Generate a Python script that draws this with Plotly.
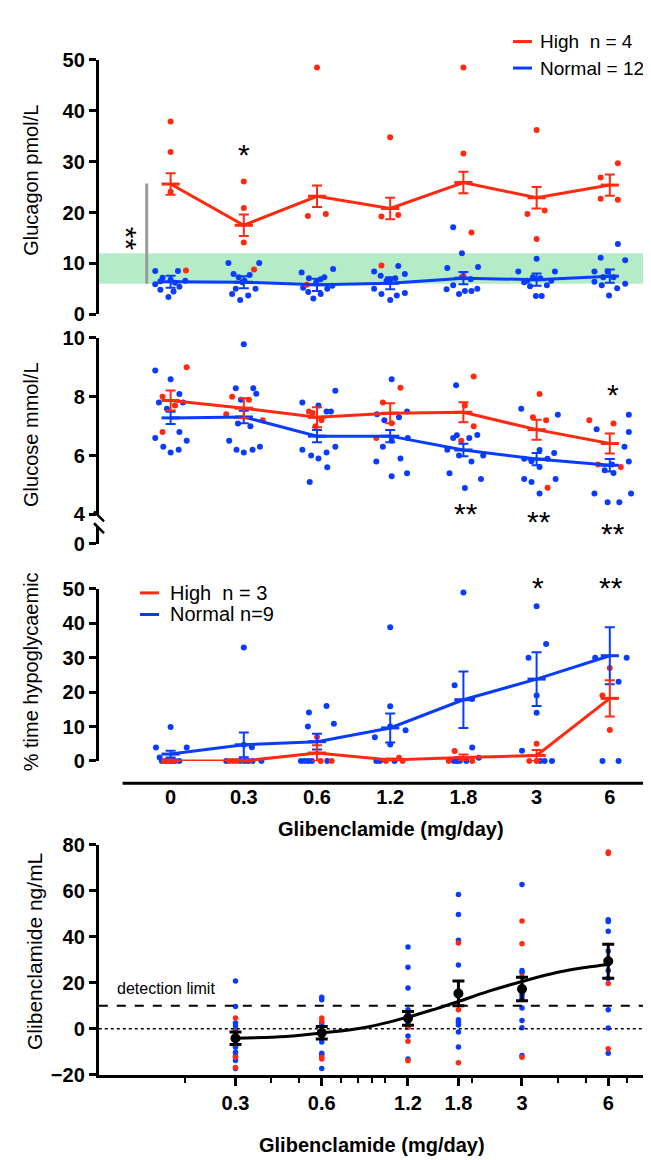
import plotly.graph_objects as go

W, H = 651, 1160
RED = "#ff2a10"
BLUE = "#0a3cff"
FONT = "Arial, 'Liberation Sans', sans-serif"

dose_labels = ["0", "0.3", "0.6", "1.2", "1.8", "3", "6"]

# --- panel 1: glucagon (pmol/L) ---
gcg_high_mean = [25.6, 17.5, 23.2, 20.8, 25.9, 22.9, 25.4]
gcg_high_sem = [2.1, 2.1, 2.1, 2.1, 2.1, 2.1, 2.1]
gcg_norm_mean = [6.4, 6.3, 5.8, 6.1, 7.1, 6.8, 7.5]
gcg_norm_sem = [1.2, 1.2, 1.2, 1.2, 1.2, 1.2, 1.3]
gcg_high_pts = [[37.9, 31.9, 24.1, 8.6], [26.1, 20.9, 14.1, 8.8], [48.5, 19.3, 19.7, 5.8],
                [34.8, 19.2, 19.5, 9.6], [48.5, 31.6, 16.1, 7.6], [36.2, 19.7, 20.4, 14.8],
                [29.7, 26.9, 22.7, 22.5]]
gcg_high_jit = [[0, 0, 0, 0.21], [0, 0, 0, 0.14], [0, -0.125, 0.12, -0.14],
                [0, -0.12, 0.11, -0.12], [0, 0, 0.11, 0], [0, -0.125, 0.11, 0],
                [0.11, -0.125, -0.125, 0.11]]
gcg_norm_pts = [[8.5, 7.2, 6.8, 8.5, 6.5, 6.6, 6.2, 4.8, 5.4, 3.4, 4.5, 5.9],
                [10.1, 10.1, 7.9, 7.3, 7.7, 6.6, 5.0, 5.0, 4.0, 3.7, 2.8, 6.3],
                [8.2, 7.1, 7.3, 8.9, 6.3, 4.4, 3.1, 4.0, 5.0, 5.6, 5.2, 6.9],
                [8.4, 9.5, 7.9, 7.6, 6.8, 7.1, 5.0, 4.0, 2.8, 3.7, 4.2, 6.6],
                [17.1, 12.0, 9.1, 9.3, 6.9, 4.9, 5.7, 4.0, 4.6, 4.6, 5.0, 7.3],
                [8.4, 10.9, 8.4, 6.6, 7.3, 7.1, 5.5, 5.7, 3.6, 3.6, 6.3, 6.6],
                [13.8, 11.1, 10.6, 8.4, 8.4, 6.4, 5.7, 6.0, 5.1, 3.7, 7.3, 7.3]]
gcg_norm_jit = [[-0.21, -0.11, 0.0, 0.10, -0.14, 0.20, 0.06, -0.14, 0.12, -0.03, 0.04, -0.21],
                [-0.21, 0.21, -0.14, -0.07, 0.08, 0.01, -0.11, 0.16, -0.16, 0.06, -0.05, -0.02],
                [-0.21, -0.11, 0.10, 0.22, -0.01, -0.12, -0.05, 0.05, 0.14, 0.21, -0.19, 0.05],
                [-0.22, 0.11, 0.20, -0.13, 0.0, 0.07, -0.22, -0.12, 0.0, 0.09, 0.20, -0.05],
                [-0.14, -0.02, -0.22, 0.20, 0.10, -0.23, -0.14, -0.06, 0.02, 0.11, 0.19, -0.02],
                [-0.25, 0.0, 0.25, -0.125, -0.05, 0.05, -0.09, 0.14, -0.01, 0.07, -0.17, 0.20],
                [0.11, -0.125, 0.21, -0.21, -0.03, -0.21, -0.11, 0.21, 0.10, -0.01, 0.05, -0.09]]

# --- panel 2: glucose (mmol/L) ---
glu_high_mean = [7.87, 7.61, 7.30, 7.44, 7.47, 6.88, 6.41]
glu_high_sem = [0.34, 0.34, 0.34, 0.34, 0.34, 0.34, 0.34]
glu_norm_mean = [7.28, 7.31, 6.66, 6.66, 6.19, 5.88, 5.67]
glu_norm_sem = [0.21, 0.21, 0.21, 0.21, 0.21, 0.21, 0.21]
glu_high_pts = [[9.0, 8.0, 7.7, 6.8], [8.0, 7.9, 7.4, 7.2], [7.5, 7.45, 7.2, 7.0],
                [7.8, 8.3, 7.1, 6.6], [8.69, 7.7, 7.0, 6.5], [8.09, 7.3, 7.2, 4.91],
                [7.2, 7.09, 5.61, 5.7]]
glu_high_jit = [[0.22, -0.11, 0.06, -0.11], [-0.16, 0.07, -0.24, 0.26], [-0.11, -0.06, 0.06, -0.02],
                [-0.10, 0.14, 0.02, -0.19], [0.14, 0.02, 0.14, -0.03], [0.04, -0.05, 0.13, 0.15],
                [-0.28, 0.05, 0.15, -0.16]]
glu_norm_pts = [[8.89, 8.59, 8.09, 7.8, 7.8, 7.59, 6.8, 6.6, 6.5, 6.3, 6.2, 6.1],
                [9.78, 8.29, 8.29, 8.1, 7.9, 7.09, 7.0, 6.5, 6.2, 6.2, 6.1, 6.3],
                [7.8, 7.7, 7.5, 7.5, 8.2, 6.2, 6.0, 5.9, 6.1, 6.3, 5.6, 5.1],
                [8.59, 7.4, 7.2, 7.3, 7.5, 6.6, 6.5, 6.3, 5.8, 5.9, 5.3, 5.4],
                [8.39, 6.6, 6.69, 6.6, 6.7, 6.2, 6.0, 6.0, 5.8, 5.4, 5.2, 4.9],
                [7.59, 7.39, 6.19, 6.09, 5.89, 5.81, 5.89, 5.61, 5.2, 5.1, 5.2, 4.71],
                [6.89, 7.39, 6.8, 5.8, 5.5, 5.41, 4.71, 4.41, 4.41, 4.71, 5.7, 6.3]]
glu_norm_jit = [[-0.21, 0.0, 0.12, -0.16, 0.17, -0.05, 0.12, -0.21, 0.22, -0.10, 0.11, 0.0],
                [0.0, -0.11, 0.13, 0.17, -0.04, -0.08, 0.09, -0.20, -0.10, 0.12, 0.0, 0.22],
                [-0.20, 0.02, 0.13, 0.19, 0.25, -0.20, -0.08, 0.02, 0.13, 0.25, 0.14, -0.10],
                [0.02, -0.18, -0.08, 0.12, 0.23, 0.24, 0.02, -0.10, -0.19, 0.14, 0.02, 0.23],
                [-0.10, -0.14, -0.09, 0.08, 0.19, -0.22, -0.06, 0.27, 0.11, -0.19, 0.24, 0.02],
                [-0.21, 0.29, 0.04, 0.24, -0.17, -0.07, 0.15, 0.04, -0.17, -0.07, 0.26, 0.04],
                [-0.18, 0.26, 0.26, 0.26, -0.07, 0.05, -0.21, -0.03, 0.13, 0.29, 0.03, 0.20]]

# --- panel 3: % time hypoglycaemic ---
hypo_high_mean = [0, 0, 2.3, 0.3, 1.0, 1.6, 18.2]
hypo_high_sem = [0, 0, 2.3, 0.4, 0.9, 1.6, 5.3]
hypo_norm_mean = [2.0, 4.7, 5.6, 9.6, 17.8, 23.8, 30.6]
hypo_norm_sem = [1.0, 3.6, 2.3, 4.2, 8.2, 7.8, 8.3]
hypo_high_pts = [[0, 0, 0], [0, 0, 0], [7, 0, 0], [0.9, 0, 0], [2.9, 0, 0], [5, 0, 0], [27, 19, 9]]
hypo_high_jit = [[-0.09, -0.03, 0.03], [-0.20, -0.15, -0.10], [0.0, 0.05, 0.20], [0.12, -0.06, 0.17],
                 [-0.12, -0.20, 0.12], [0.0, -0.10, 0.0], [0.0, -0.10, 0.0]]
hypo_norm_pts = [[3.9, 9.9, 3.9, 1.0, 0, 0, 0, 0, 0],
                 [33, 4.7, 4.0, 0, 0, 0, 0, 0, 0],
                 [10, 14.1, 16, 10.8, 0, 0, 0, 0, 0],
                 [38.9, 15.9, 6.9, 8.9, 4.8, 10, 0, 0, 0],
                 [49, 22, 18, 3.9, 0.9, 0, 0, 0, 0],
                 [45, 34, 30, 19, 14, 3, 0, 0, 0],
                 [30, 30, 23, 0, 0]]
hypo_norm_jit = [[-0.20, 0.0, 0.22, -0.15, -0.12, -0.06, 0.0, 0.06, 0.12],
                 [0.0, 0.0, 0.11, -0.24, -0.05, 0.01, 0.06, 0.12, 0.24],
                 [-0.125, -0.11, 0.13, 0.23, -0.22, -0.17, -0.12, -0.07, 0.14],
                 [0.0, 0.0, -0.21, 0.21, 0.0, 0.0, -0.19, -0.14, 0.06],
                 [0.0, -0.12, 0.12, 0.12, 0.21, -0.13, -0.05, 0.04, -0.09],
                 [0.0, 0.13, -0.11, 0.0, 0.0, -0.20, 0.11, 0.21, 0.05],
                 [-0.20, 0.23, 0.12, -0.10, 0.12]]

# --- panel 4: plasma glibenclamide (ng/mL) ---
gli_doses = [0.3, 0.6, 1.2, 1.8, 3, 6]
gli_mean = [-4.2, -1.8, 4.5, 15.3, 17.2, 29.3]
gli_sem = [2.7, 2.7, 3.0, 5.4, 5.1, 7.4]
gli_high_pts = [[4.6, -1.5, -12.4, -16.9], [4.6, 3.2, -12.4, -13.2], [1.0, 0.5, -5.5, -14.0],
                [37.3, 14.2, 8.2, -14.9], [46.8, 36.9, 22.7, -12.4], [76.8, 76.2, 19.6, -8.8]]
gli_norm_pts = [[20.7, 9.6, 2.5, 1.1, -1.0, -3.8, -5.3, -7.5, -8.1, -10.3, -12.0, -13.9, -17.4],
                [13.6, 12.6, 2.5, 1.1, -1.1, -3.2, -4.3, -5.8, -10.7, -11.5, -17.4],
                [35.5, 26.7, 17.7, 8.2, 6.8, 5.3, 2.5, -3.2, -13.2],
                [58.4, 49.7, 38.5, 27.7, 3.9, 2.8, 1.6, -1.5, -8.0],
                [62.7, 25.3, 24.4, 15.6, 14.6, 13.2, 9.0, 3.5, 0.4, -11.7],
                [47.4, 46.6, 42.4, 33.8, 28.2, 25.3, 21.8, 8.2, 0.3, -10.7]]
fit_x = [0.3, 0.45, 0.6, 0.85, 1.2, 1.5, 1.8, 2.3, 3, 4, 5, 6]
fit_y = [-4.2, -3.4, -1.9, 0.5, 5.0, 8.6, 11.8, 16.3, 20.5, 24.5, 26.6, 27.9]


def fx(p):
    return p / W


def fy(p):
    return 1 - p / H


def flat(pts, jit):
    xs, ys = [], []
    for i, (vals, offs) in enumerate(zip(pts, jit)):
        for v, o in zip(vals, offs):
            xs.append(i + o)
            ys.append(v)
    return xs, ys


fig = go.Figure()


def dots(pts, jit, color, xa, ya):
    xs, ys = flat(pts, jit)
    fig.add_trace(go.Scatter(x=xs, y=ys, mode="markers", xaxis=xa, yaxis=ya,
                             marker=dict(color=color, size=6), cliponaxis=False,
                             showlegend=False, hoverinfo="skip"))


def means(mean, sem, color, xa, ya):
    fig.add_trace(go.Scatter(x=list(range(len(mean))), y=mean, mode="lines+markers",
                             xaxis=xa, yaxis=ya, cliponaxis=False,
                             line=dict(color=color, width=3),
                             marker=dict(symbol="line-ew-open", size=13, color=color,
                                         line=dict(color=color, width=3)),
                             error_y=dict(type="data", array=sem, color=color,
                                          thickness=2, width=5),
                             showlegend=False))


# panel 1
dots(gcg_norm_pts, gcg_norm_jit, BLUE, "x", "y")
dots(gcg_high_pts, gcg_high_jit, RED, "x", "y")
means(gcg_norm_mean, gcg_norm_sem, BLUE, "x", "y")
means(gcg_high_mean, gcg_high_sem, RED, "x", "y")
# panel 2
dots(glu_norm_pts, glu_norm_jit, BLUE, "x2", "y2")
dots(glu_high_pts, glu_high_jit, RED, "x2", "y2")
means(glu_norm_mean, glu_norm_sem, BLUE, "x2", "y2")
means(glu_high_mean, glu_high_sem, RED, "x2", "y2")
fig.add_trace(go.Scatter(x=[], y=[], xaxis="x2", yaxis="y5", showlegend=False))
# panel 3
dots(hypo_norm_pts, hypo_norm_jit, BLUE, "x3", "y3")
dots(hypo_high_pts, hypo_high_jit, RED, "x3", "y3")
means(hypo_norm_mean, hypo_norm_sem, BLUE, "x3", "y3")
means(hypo_high_mean, hypo_high_sem, RED, "x3", "y3")

# panel 4
for pts, color in [(gli_norm_pts, BLUE), (gli_high_pts, RED)]:
    xs, ys = [], []
    for d, vals in zip(gli_doses, pts):
        xs += [d] * len(vals)
        ys += vals
    fig.add_trace(go.Scatter(x=xs, y=ys, mode="markers", xaxis="x4", yaxis="y4",
                             marker=dict(color=color, size=5.5), cliponaxis=False,
                             showlegend=False))
fig.add_trace(go.Scatter(x=fit_x, y=fit_y, mode="lines", xaxis="x4", yaxis="y4",
                         line=dict(color="black", width=3, shape="spline"), showlegend=False))
fig.add_trace(go.Scatter(x=gli_doses, y=gli_mean, mode="markers", xaxis="x4", yaxis="y4",
                         marker=dict(color="black", size=10),
                         error_y=dict(type="data", array=gli_sem, color="black",
                                      thickness=3, width=6),
                         showlegend=False))

tickfont = dict(family=FONT, size=20, color="black", weight="bold")
yax = dict(showline=True, linewidth=3, linecolor="black", ticks="outside", ticklen=7,
           tickwidth=2.5, tickcolor="black", tickfont=tickfont, showgrid=False,
           zeroline=False)
cat_range = [-0.981, 6.672]
xdom = [fx(90.8), 1.0]
hidden_x = dict(domain=xdom, range=cat_range, visible=False)

fig.update_layout(
    width=W, height=H, margin=dict(l=0, r=0, t=0, b=0),
    paper_bgcolor="white", plot_bgcolor="white",
    font=dict(family=FONT, color="black"),
    xaxis=dict(hidden_x, anchor="y"),
    yaxis=dict(yax, domain=[fy(301), fy(41.7)], range=[0, 50], dtick=10, anchor="x"),
    xaxis2=dict(hidden_x, anchor="y2"),
    yaxis2=dict(yax, domain=[fy(505), fy(325)], range=[4, 10], dtick=2, anchor="x2"),
    yaxis5=dict(yax, domain=[fy(535), fy(518)], range=[0, 0.57], tickvals=[0], anchor="x2"),
    xaxis3=dict(domain=xdom, range=cat_range, anchor="free", position=fy(779),
                showline=False, ticks="", tickvals=list(range(7)), ticktext=dose_labels,
                tickfont=tickfont, showgrid=False, zeroline=False),
    yaxis3=dict(yax, domain=[fy(756.3), fy(581)], range=[0, 50], dtick=10, anchor="x3"),
    xaxis4=dict(type="log", domain=[fx(90.8), fx(636)], range=[-1, 0.903], anchor="y4",
                showline=True, linewidth=3, linecolor="black", ticks="outside",
                ticklen=8, tickwidth=2.5, tickcolor="black", tickfont=tickfont,
                tickvals=gli_doses, ticktext=dose_labels[1:], showgrid=False,
                minor=dict(tickvals=[0.2, 0.4, 0.5, 0.7, 0.8, 0.9, 1, 2, 4, 5, 7, 8],
                           ticks="outside", ticklen=5, tickwidth=2, tickcolor="black")),
    yaxis4=dict(yax, domain=[fy(1076), fy(841.7)], range=[-20, 80], dtick=20, anchor="x4"),
)

shapes = [
    # normal range band
    dict(type="rect", xref="x", yref="y", x0=cat_range[0], x1=6.65, y0=6, y1=12,
         fillcolor="#b5ecc8", line=dict(width=0), layer="below"),
    dict(type="line", xref="paper", yref="y", x0=fx(138.7), x1=fx(138.7), y0=6, y1=25.7,
         line=dict(color="#9a9a9a", width=3)),
    # category axis line of panel 3
    dict(type="line", xref="paper", yref="paper", x0=fx(114.6), x1=1, y0=fy(779), y1=fy(779),
         line=dict(color="black", width=3)),
    # axis break marks
    dict(type="line", xref="paper", yref="paper", x0=fx(86), x1=fx(96), y0=fy(502), y1=fy(512),
         line=dict(color="black", width=2.5)),
    dict(type="line", xref="paper", yref="paper", x0=fx(86), x1=fx(96), y0=fy(514), y1=fy(524),
         line=dict(color="black", width=2.5)),
    # detection limit and zero
    dict(type="line", xref="x4 domain", yref="y4", x0=0, x1=1, y0=10, y1=10,
         line=dict(color="black", width=2, dash="dash")),
    dict(type="line", xref="x4 domain", yref="y4", x0=0, x1=1, y0=0, y1=0,
         line=dict(color="black", width=1.5, dash="dot")),
    # legend samples
    dict(type="line", xref="paper", yref="paper", x0=fx(505), x1=fx(524), y0=fy(23), y1=fy(23),
         line=dict(color=RED, width=3)),
    dict(type="line", xref="paper", yref="paper", x0=fx(505), x1=fx(524), y0=fy(50), y1=fy(50),
         line=dict(color=BLUE, width=3)),
    dict(type="line", xref="paper", yref="paper", x0=fx(132), x1=fx(151), y0=fy(585), y1=fy(585),
         line=dict(color=RED, width=3)),
    dict(type="line", xref="paper", yref="paper", x0=fx(132), x1=fx(151), y0=fy(607), y1=fy(607),
         line=dict(color=BLUE, width=3)),
]
fig.update_layout(shapes=shapes)


def note(text, x, y, size=20, angle=0, xanchor="center", bold=False):
    fig.add_annotation(text=text, x=fx(x), y=fy(y), xref="paper", yref="paper",
                       showarrow=False, textangle=angle, xanchor=xanchor, yanchor="middle",
                       font=dict(family=FONT, size=size, color="black",
                                 weight="bold" if bold else "normal"))


note("Glucagon pmol/L", 23, 165, angle=-90)
note("Glucose mmol/L", 23, 424, angle=-90)
note("% time hypoglycaemic", 23, 666, angle=-90)
note("Glibenclamide ng/mL", 27, 951, size=21, angle=-90)
note("Glibenclamide (mg/day)", 383, 826, bold=True)
note("Glibenclamide (mg/day)", 364, 1148, bold=True)
note("detection limit", 107, 988, size=16, xanchor="left")
note("High  n = 4", 530, 23, size=19, xanchor="left")
note("Normal = 12", 530, 50, size=19, xanchor="left")
note("High  n = 3", 160, 585, xanchor="left")
note("Normal n=9", 160, 607, xanchor="left")
# significance marks
note("*", 236, 138, size=30)
note("**", 118, 224, size=30, angle=90)
note("*", 605, 383, size=30)
note("**", 458, 504, size=30)
note("**", 531, 512, size=30)
note("**", 605, 524, size=30)
note("*", 530, 579, size=30)
note("**", 603, 579, size=30)

fig.write_html("out.html")
